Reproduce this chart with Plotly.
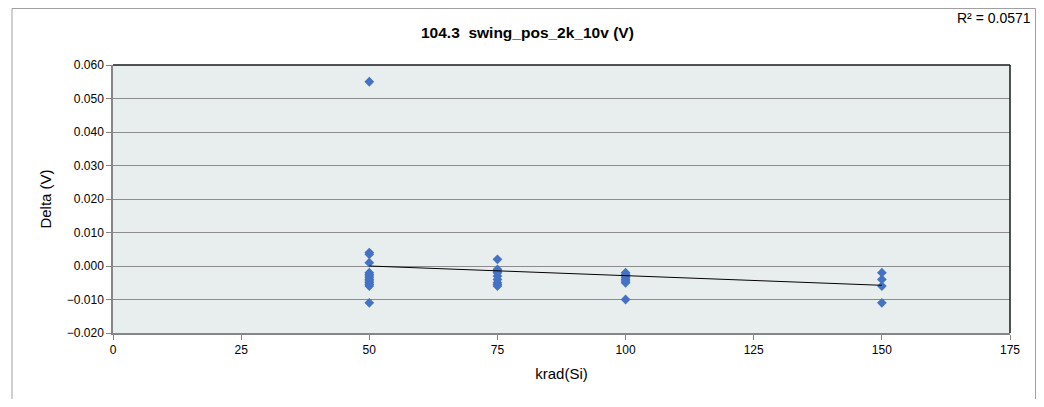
import plotly.graph_objects as go

# ---- data ----
dose_50 = [0.055, 0.004, 0.0035, 0.001, -0.002, -0.0025, -0.003, -0.0035, -0.004,
           -0.0045, -0.005, -0.0055, -0.006, -0.011]
dose_75 = [0.002, -0.001, -0.0015, -0.002, -0.003, -0.004, -0.005, -0.0055, -0.006]
dose_100 = [-0.002, -0.0025, -0.003, -0.0035, -0.004, -0.0045, -0.005, -0.010]
dose_150 = [-0.002, -0.004, -0.006, -0.011]
doses = [50, 75, 100, 150]

# linear trendline (Excel trendline), and its R²
trend_slope = -0.0000576
trend_intercept = 0.00288
r_squared_text = "R² = 0.0571"

title_text = "104.3\u00a0 swing_pos_2k_10v (V)"
x_title = "krad(Si)"
y_title = "Delta (V)"

x_vals, y_vals = [], []
for d, vals in zip(doses, [dose_50, dose_75, dose_100, dose_150]):
    x_vals += [d] * len(vals)
    y_vals += vals

trend_x = [min(doses), max(doses)]
trend_y = [trend_intercept + trend_slope * x for x in trend_x]

FONT = "Liberation Sans, Arial, sans-serif"

fig = go.Figure()
fig.add_trace(go.Scatter(
    x=x_vals, y=y_vals, mode="markers",
    marker=dict(symbol="diamond", size=7.5, color="#4472C4", line=dict(width=0)),
    showlegend=False, cliponaxis=False,
))
fig.add_trace(go.Scatter(
    x=trend_x, y=trend_y, mode="lines",
    line=dict(color="black", width=1), showlegend=False,
))

# page body has an 8px margin; target pixel geometry in the window:
OFF = 8
FW, FH = 1044 - 2 * OFF, 407 - 2 * OFF
L, R, T, B = 113 - OFF, 1010 - OFF, 65 - OFF, 333 - OFF
W, H = R - L, B - T
def px(xp): return (xp - OFF - L) / W
def py(yp): return (B - (yp - OFF)) / H

fig.update_layout(
    width=FW, height=FH,
    margin=dict(l=L, r=FW - R, t=T, b=FH - B),
    paper_bgcolor="white",
    plot_bgcolor="#E8EEEE",
    font=dict(family=FONT, size=12, color="#000000"),
    xaxis=dict(
        range=[0, 175], dtick=25, tick0=0,
        showgrid=False, zeroline=False,
        showline=True, linecolor="#868686", linewidth=2,
        ticks="outside", ticklen=5, tickcolor="#868686",
        tickfont=dict(size=12),
        title=dict(text=x_title, font=dict(size=15), standoff=12),
    ),
    yaxis=dict(
        range=[-0.02, 0.06], dtick=0.01, tick0=0, tickformat=".3f",
        showgrid=True, gridcolor="#8C8C8C", gridwidth=1, zeroline=False,
        showline=True, linecolor="#868686", linewidth=1.5,
        ticks="outside", ticklen=5, tickcolor="#868686",
        tickfont=dict(size=12),
        title=dict(text=y_title, font=dict(size=15), standoff=12),
    ),
    shapes=[
        # outer chart border (left, top, right edges)
        dict(type="line", xref="paper", yref="paper",
             x0=px(12), x1=px(12), y0=py(460), y1=py(8.5),
             line=dict(color="#A0A0A0", width=1)),
        dict(type="line", xref="paper", yref="paper",
             x0=px(12), x1=px(1035.5), y0=py(8.5), y1=py(8.5),
             line=dict(color="#A0A0A0", width=1)),
        dict(type="line", xref="paper", yref="paper",
             x0=px(1035.5), x1=px(1035.5), y0=py(460), y1=py(8.5),
             line=dict(color="#A0A0A0", width=1)),
        # top and right plot border (dark)
        dict(type="line", xref="paper", yref="paper", x0=0, x1=1, y0=1, y1=1,
             line=dict(color="#1a1a1a", width=1.5)),
        dict(type="line", xref="paper", yref="paper", x0=1, x1=1, y0=0, y1=1,
             line=dict(color="#1a1a1a", width=1.5)),
    ],
    annotations=[
        dict(text="<b>" + title_text + "</b>", xref="paper", yref="paper",
             x=px(527), y=py(32), xanchor="center", yanchor="middle",
             showarrow=False, font=dict(size=15.5)),
        dict(text=r_squared_text, xref="paper", yref="paper",
             x=px(1033), y=py(18), xanchor="right", yanchor="middle",
             showarrow=False, font=dict(size=14)),
    ],
)

fig.write_html("out.html")
